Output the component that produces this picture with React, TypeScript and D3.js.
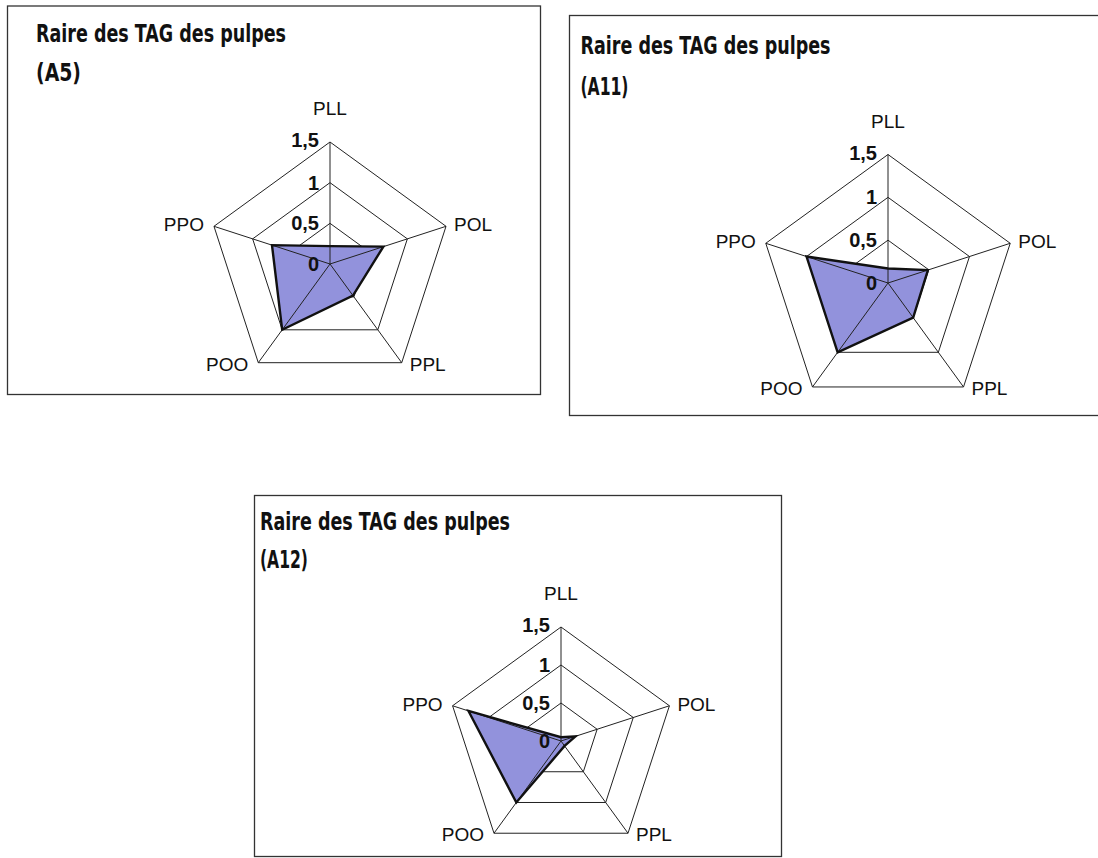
import React from 'react';
import * as d3 from 'd3';

// ---- data ----
const AXES = ['PLL', 'POL', 'PPL', 'POO', 'PPO'];
const TICKS = [0, 0.5, 1, 1.5];
const TICK_LABELS = ['0', '0,5', '1', '1,5'];
const TITLE = 'Raire des TAG des pulpes';
const SAMPLES = ['(A5)', '(A11)', '(A12)'];
const VALUES_A5 = [0.22, 0.69, 0.48, 1.0, 0.75];
const VALUES_A11 = [0.17, 0.49, 0.5, 1.0, 1.0];
const VALUES_A12 = [0.05, 0.2, 0.08, 1.0, 1.28];
const SERIES = [VALUES_A5, VALUES_A11, VALUES_A12];

// ---- layout ----
const PANELS = [
  { box: [7.5, 6, 533, 388.5], cx: 330, cy: 264, r: 122, tx: 36, ty: 42, sy: 80.5, sw: 45 },
  { box: [569.5, 15.5, 540, 400], cx: 888, cy: 283, r: 128.5, tx: 580.5, ty: 53.5, sy: 95, sw: 48 },
  { box: [254.5, 495.5, 527, 361], cx: 561, cy: 741, r: 114, tx: 260, ty: 530, sy: 568, sw: 48 },
];

const FILL = '#9292dc';
const TITLE_FONT = "'Liberation Sans Narrow', 'DejaVu Sans Condensed', 'Roboto Condensed', sans-serif";
const LABEL_FONT = "'Liberation Sans', Arial, sans-serif";

function Radar({ p, values, sample }: any) {
  const rScale = d3.scaleLinear().domain([0, 1.5]).range([0, p.r]);
  const n = AXES.length;
  const ang = (i: number) => (i * 2 * Math.PI) / n;
  const pt = (i: number, v: number) => {
    const a = ang(i);
    return [p.cx + rScale(v) * Math.sin(a), p.cy - rScale(v) * Math.cos(a)];
  };
  const radial = d3
    .lineRadial<number>()
    .angle((_d, i) => ang(i))
    .radius((d) => rScale(d))
    .curve(d3.curveLinearClosed);

  const labelPos = (i: number) => {
    const [vx, vy] = pt(i, 1.5);
    if (i === 0) return { x: vx, y: vy - 27, a: 'middle' };
    if (i === 1) return { x: vx + 8, y: vy + 5, a: 'start' };
    if (i === 2) return { x: vx + 8, y: vy + 8, a: 'start' };
    if (i === 3) return { x: vx - 10, y: vy + 8, a: 'end' };
    return { x: vx - 10, y: vy + 5, a: 'end' };
  };

  const [bx, by, bw, bh] = p.box;
  return (
    <g>
      <rect x={bx} y={by} width={bw} height={bh} fill="#fff" stroke="#333" strokeWidth={1.3} />
      <text
        x={p.tx}
        y={p.ty}
        fontFamily={TITLE_FONT}
        fontWeight="bold"
        fontSize={24}
        textLength={250}
        lengthAdjust="spacingAndGlyphs"
        fill="#111"
      >
        {TITLE}
      </text>
      <text
        x={p.tx}
        y={p.sy}
        fontFamily={TITLE_FONT}
        fontWeight="bold"
        fontSize={24}
        textLength={p.sw}
        lengthAdjust="spacingAndGlyphs"
        fill="#111"
      >
        {sample}
      </text>
      <g transform={`translate(${p.cx},${p.cy})`}>
        {TICKS.filter((t) => t > 0).map((t) => (
          <path
            key={t}
            d={radial(AXES.map(() => t)) || ''}
            fill="none"
            stroke="#222"
            strokeWidth={1}
          />
        ))}
        <path d={radial(values) || ''} fill={FILL} stroke="none" />
        {AXES.map((_a, i) => {
          const a = ang(i);
          return (
            <line
              key={i}
              x1={0}
              y1={0}
              x2={rScale(1.5) * Math.sin(a)}
              y2={-rScale(1.5) * Math.cos(a)}
              stroke="#222"
              strokeWidth={1}
            />
          );
        })}
        <path
          d={radial(values) || ''}
          fill="none"
          stroke="#111"
          strokeWidth={2.4}
          strokeLinejoin="miter"
        />
      </g>
      {TICKS.map((t, k) => (
        <text
          key={t}
          x={p.cx - 11}
          y={p.cy - rScale(t) + (t === 1.5 ? 5 : 7)}
          textAnchor="end"
          fontFamily={LABEL_FONT}
          fontWeight="bold"
          fontSize={20}
          fill="#111"
        >
          {TICK_LABELS[k]}
        </text>
      ))}
      {AXES.map((name, i) => {
        const l = labelPos(i);
        return (
          <text
            key={name}
            x={l.x}
            y={l.y}
            textAnchor={l.a as any}
            fontFamily={LABEL_FONT}
            fontSize={19}
            fill="#111"
          >
            {name}
          </text>
        );
      })}
    </g>
  );
}

export default function App() {
  return (
    <svg
      width={1098}
      height={858}
      style={{ position: 'absolute', left: 0, top: 0, display: 'block', background: '#fff' }}
    >
      {PANELS.map((p, i) => (
        <Radar key={i} p={p} values={SERIES[i]} sample={SAMPLES[i]} />
      ))}
    </svg>
  );
}
